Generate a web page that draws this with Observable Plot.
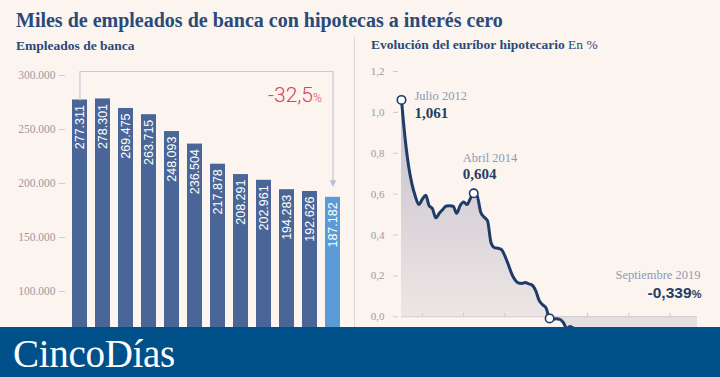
<!DOCTYPE html>
<html><head><meta charset="utf-8">
<script src="https://cdn.jsdelivr.net/npm/d3@7"></script>
<script src="https://cdn.jsdelivr.net/npm/@observablehq/plot@0.6"></script>
<style>
html,body{margin:0;padding:0;}
body{width:720px;height:377px;overflow:hidden;background:#fcf4ee;position:relative;font-family:"Liberation Serif",serif;}
.abs{position:absolute;white-space:nowrap;line-height:1;}
#left{left:0;top:0;}
#right{left:355px;top:0;}
#divider{position:absolute;left:354px;top:37px;width:1px;height:340px;background:#ddd6d2;}
#title{left:16px;top:10px;font-size:20px;font-weight:bold;color:#2a4a78;}
#sub1{left:16px;top:39px;font-size:13.5px;font-weight:bold;color:#2a4a78;}
#sub2{left:371px;top:38px;font-size:13.5px;color:#2a4a78;}
#sub2 b{font-weight:bold;}
#banner{position:absolute;left:0;top:327px;width:720px;height:50px;background:#00508a;}
#banner span{position:absolute;left:13px;top:7px;font-family:"Liberation Serif",serif;font-size:39px;line-height:1;color:#fff;letter-spacing:-0.3px;}
</style></head><body>
<div id="left" class="abs"></div>
<div id="right" class="abs"></div>
<div id="divider"></div>
<div id="title" class="abs">Miles de empleados de banca con hipotecas a interés cero</div>
<div id="sub1" class="abs">Empleados de banca</div>
<div id="sub2" class="abs"><b>Evolución del euríbor hipotecario</b> En %</div>
<div id="banner"><span>CincoDías</span></div>
<script>
// ---- Data: bank employees ----
const years = ["2007","2008","2009","2010","2011","2012","2013","2014","2015","2016","2017","2018"];
const employees = [277311, 278301, 269475, 263715, 248093, 236504, 217878, 208291, 202961, 194283, 192626, 187182];
const employeeTicks = [100000, 150000, 200000, 250000, 300000];
const changeLabel = "-32,5";
// bracket level and arrow end (values on the employees axis)
const bracketTop = 303700;
const bracketEnd = 200000;

// ---- Data: Euribor (monthly, Jul 2012 - Sep 2019) ----
const euriborStart = "2012-07-01";
const euriborValues = [
  1.061, 0.877, 0.740, 0.650, 0.588, 0.549,
  0.575, 0.594, 0.545, 0.528, 0.484, 0.507, 0.525, 0.542, 0.543, 0.541, 0.506, 0.543,
  0.562, 0.549, 0.577, 0.604, 0.592, 0.513, 0.488, 0.469, 0.362, 0.338, 0.335, 0.329,
  0.298, 0.255, 0.212, 0.180, 0.165, 0.163, 0.167, 0.161, 0.154, 0.128, 0.079, 0.059,
  0.042, -0.008, -0.012, -0.010, -0.013, -0.028, -0.056, -0.048, -0.057, -0.069, -0.074, -0.080,
  -0.095, -0.106, -0.110, -0.119, -0.127, -0.149, -0.154, -0.156, -0.168, -0.180, -0.189, -0.190,
  -0.189, -0.191, -0.191, -0.190, -0.188, -0.181, -0.180, -0.169, -0.166, -0.154, -0.147, -0.129,
  -0.116, -0.108, -0.109, -0.112, -0.134, -0.190, -0.283, -0.356, -0.339
];
const euriborTicks = [0, 0.2, 0.4, 0.6, 0.8, 1.0, 1.2];
const yearTicks = ["2013-01-01","2014-01-01","2015-01-01","2016-01-01","2017-01-01","2018-01-01","2019-01-01"];
const highlightMonths = ["2012-07-01","2014-04-01","2016-02-01","2019-09-01"];
const annMonths = ["2012-07-01", "2014-04-01", "2019-09-01"];
const annLabels = ["Julio 2012", "Abril 2014", "Septiembre 2019"];
const annValues = ["1,061", "0,604", "-0,339"];

// ---- Build tables ----
const es = d3.formatLocale({decimal: ",", thousands: ".", grouping: [3], currency: ["", "€"]});
const fmtInt = es.format(",d");
const fmtDec = d => d.toFixed(1).replace(".", ",");

const bars = years.map((y, i) => ({year: y, value: employees[i], last: i === years.length - 1}));
const bracket = [
  {year: years[0], v: employees[0]},
  {year: years[0], v: bracketTop},
  {year: years[years.length - 1], v: bracketTop},
  {year: years[years.length - 1], v: bracketEnd}
];

const start = new Date(euriborStart);
const eur = euriborValues.map((v, i) => ({date: d3.utcMonth.offset(start, i), v}));
const findMonth = m => eur.find(d => +d.date === +new Date(m));
const highlights = highlightMonths.map(findMonth);
const ann = annMonths.map((m, i) => ({...findMonth(m), label: annLabels[i], value: annValues[i]}));
const lastPoint = eur[eur.length - 1];

const navy = "#1f3c69";
const tickGrey = "#cfcacb";
const labelGrey = "#9a9aa6";
const annGrey = "#8c9bb8";
const valueNavy = "#263d63";

// ---- Left chart: bars ----
const downTriangle = {
  draw(ctx, size) {
    const s = Math.sqrt(size) / 2;
    ctx.moveTo(-s, -s);
    ctx.lineTo(s, -s);
    ctx.lineTo(0, s * 1.1);
    ctx.closePath();
  }
};

const left = Plot.plot({
  width: 354,
  height: 399,
  marginTop: 75,
  marginBottom: 0,
  marginLeft: 63,
  marginRight: 6,
  style: {background: "transparent", overflow: "visible"},
  x: {domain: years, padding: 0.35, axis: null},
  y: {domain: [0, 300000], axis: null},
  marks: [
    Plot.axisY({ticks: employeeTicks, tickFormat: fmtInt, tickSize: 6, tickPadding: 4, dx: 2,
      stroke: tickGrey, fill: labelGrey, fontSize: 11.5, fontFamily: "Liberation Serif", label: null}),
    Plot.barY(bars, {x: "year", y: "value", fill: d => d.last ? "#5a9ad6" : "#4a6699"}),
    Plot.text(bars, {x: "year", y: "value", text: d => fmtInt(d.value), rotate: -90, textAnchor: "end",
      dy: 5, fill: "white", fontSize: 12.5, fontFamily: "Liberation Sans"}),
    Plot.line(bracket, {x: "year", y: "v", stroke: "#c6c6d8", strokeWidth: 1.2}),
    Plot.dot([bracket[3]], {x: "year", y: "v", symbol: downTriangle, r: 3.6, fill: "#b9bcd2", stroke: "none"}),
    Plot.text([bracket[2]], {x: "year", y: "v", text: () => changeLabel, textAnchor: "end", lineAnchor: "bottom",
      dx: -20, dy: 30, fill: "#e0405c", fontSize: 21, fontWeight: 300, fontFamily: "Roboto"}),
    Plot.text([bracket[2]], {x: "year", y: "v", text: () => "%", textAnchor: "start", lineAnchor: "bottom",
      dx: -20, dy: 30, fill: "#e0405c", fontSize: 12, fontWeight: 300, fontFamily: "Roboto"})
  ]
});
document.getElementById("left").appendChild(left);

// ---- Right chart: Euribor ----
const right = Plot.plot({
  width: 365,
  height: 398,
  marginTop: 71,
  marginBottom: 0,
  marginLeft: 46,
  marginRight: 23,
  style: {background: "transparent", overflow: "visible"},
  x: {type: "utc", domain: [start, lastPoint.date], axis: null},
  y: {domain: [-0.4, 1.2], axis: null},
  marks: [
    Plot.areaY(eur, {x: "date", y1: 0, y2: d => Math.max(d.v, 0), fill: "url(#eurGrad)", curve: "monotone-x"}),
    Plot.areaY(eur, {x: "date", y1: 0, y2: d => Math.min(d.v, 0), fill: "#e4dfe0", curve: "monotone-x"}),
    Plot.axisY({ticks: euriborTicks, tickFormat: fmtDec, tickSize: 5, tickPadding: 9, dx: -3,
      stroke: tickGrey, fill: labelGrey, fontSize: 11, fontFamily: "Liberation Serif", label: null}),
    Plot.ruleY([0], {stroke: tickGrey}),
    Plot.ruleX(yearTicks.map(d => new Date(d)), {x: d => d, y1: 0, y2: 0.017, stroke: tickGrey}),
    Plot.line(eur, {x: "date", y: "v", stroke: navy, strokeWidth: 3, strokeLinejoin: "round", curve: "monotone-x"}),
    Plot.dot(highlights, {x: "date", y: "v", r: 4.2, fill: "white", stroke: navy, strokeWidth: 1.6}),
    // Julio 2012
    Plot.text([ann[0]], {x: "date", y: "v", text: "label", textAnchor: "start", lineAnchor: "bottom",
      dx: 13, dy: 0, fill: annGrey, fontSize: 12.5, fontFamily: "Liberation Serif"}),
    Plot.text([ann[0]], {x: "date", y: "v", text: "value", textAnchor: "start", lineAnchor: "bottom",
      dx: 13, dy: 18, fill: valueNavy, fontSize: 15, fontWeight: "bold", fontFamily: "Liberation Serif"}),
    // Abril 2014
    Plot.text([ann[1]], {x: "date", y: "v", text: "label", textAnchor: "start", lineAnchor: "bottom",
      dx: -11, dy: -31, fill: annGrey, fontSize: 12.5, fontFamily: "Liberation Serif"}),
    Plot.text([ann[1]], {x: "date", y: "v", text: "value", textAnchor: "start", lineAnchor: "bottom",
      dx: -11, dy: -14, fill: valueNavy, fontSize: 15, fontWeight: "bold", fontFamily: "Liberation Serif"}),
    // Septiembre 2019
    Plot.text([ann[2]], {x: "date", y: "v", text: "label", textAnchor: "end", lineAnchor: "bottom",
      dx: 3, dy: -107, fill: annGrey, fontSize: 12.5, fontFamily: "Liberation Serif"}),
    Plot.text([ann[2]], {x: "date", y: "v", text: "value", textAnchor: "end", lineAnchor: "bottom",
      dx: -6, dy: -88, fill: valueNavy, fontSize: 15.5, fontWeight: "bold", fontFamily: "Liberation Sans"}),
    Plot.text([ann[2]], {x: "date", y: "v", text: () => "%", textAnchor: "end", lineAnchor: "bottom",
      dx: 4, dy: -88, fill: valueNavy, fontSize: 11, fontWeight: "bold", fontFamily: "Liberation Sans"})
  ]
});
// gradient for the positive area, placed from the Euribor peak down to zero
const yScale = right.scale("y");
const gy1 = yScale.apply(d3.max(euriborValues));
const gy0 = yScale.apply(0);
const defs = d3.select(right).insert("defs", ":first-child");
const grad = defs.append("linearGradient").attr("id", "eurGrad").attr("gradientUnits", "userSpaceOnUse")
  .attr("x1", 0).attr("x2", 0).attr("y1", gy1).attr("y2", gy0);
grad.append("stop").attr("offset", "0%").attr("stop-color", "#c4c0cc");
grad.append("stop").attr("offset", "100%").attr("stop-color", "#ede6e5");
document.getElementById("right").appendChild(right);
</script>
</body></html>
